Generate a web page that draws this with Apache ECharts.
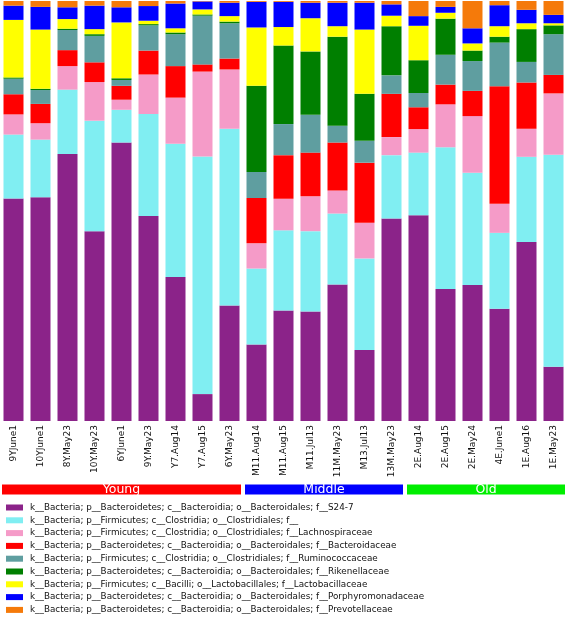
<!DOCTYPE html>
<html>
<head>
<meta charset="utf-8">
<script src="https://cdn.jsdelivr.net/npm/echarts@6/dist/echarts.min.js"></script>
<style>html,body{margin:0;padding:0;background:#fff}#c{width:567px;height:618px}</style>
</head>
<body>
<div id="c"></div>
<script>
const categories = ['9YJune1','10YJune1','8Y.May23','10Y.May23','6YJune1','9Y.May23','Y7.Aug14','Y7.Aug15','6Y.May23',
  'M11.Aug14','M11.Aug15','M11.Jul13','11M.May23','M13.Jul13','13M.May23',
  '2E.Aug14','2E.Aug15','2E.May24','4E.June1','1E.Aug16','1E.May23'];

const taxa = [
  'k__Bacteria; p__Bacteroidetes; c__Bacteroidia; o__Bacteroidales; f__S24-7',
  'k__Bacteria; p__Firmicutes; c__Clostridia; o__Clostridiales; f__',
  'k__Bacteria; p__Firmicutes; c__Clostridia; o__Clostridiales; f__Lachnospiraceae',
  'k__Bacteria; p__Bacteroidetes; c__Bacteroidia; o__Bacteroidales; f__Bacteroidaceae',
  'k__Bacteria; p__Firmicutes; c__Clostridia; o__Clostridiales; f__Ruminococcaceae',
  'k__Bacteria; p__Bacteroidetes; c__Bacteroidia; o__Bacteroidales; f__Rikenellaceae',
  'k__Bacteria; p__Firmicutes; c__Bacilli; o__Lactobacillales; f__Lactobacillaceae',
  'k__Bacteria; p__Bacteroidetes; c__Bacteroidia; o__Bacteroidales; f__Porphyromonadaceae',
  'k__Bacteria; p__Bacteroidetes; c__Bacteroidia; o__Bacteroidales; f__Prevotellaceae'
];

const S24_7           = [53.0,53.3,63.6,45.2,66.3,48.8,34.3, 6.4,27.5,18.2,26.3,26.1,32.5,16.9,48.2,49.0,31.4,32.4,26.7,42.6,12.9];
const Clostridiales_f = [15.2,13.7,15.3,26.3, 7.8,24.3,31.7,56.6,42.1,18.1,19.1,19.1,16.9,21.8,15.1,14.9,33.8,26.7,18.1,20.3,50.5];
const Lachnospiraceae = [ 4.8, 3.9, 5.6, 9.2, 2.4, 9.4,11.0,20.2,14.1, 6.0, 7.5, 8.3, 5.5, 8.5, 4.3, 5.6,10.2,13.5, 6.9, 6.7,14.6];
const Bacteroidaceae  = [ 4.8, 4.6, 3.8, 4.7, 3.3, 5.7, 7.5, 1.7, 2.6,10.8,10.4,10.4,11.4,14.3,10.3, 5.2, 4.7, 6.0,28.0,11.0, 4.4];
const Ruminococcaceae = [ 3.7, 3.3, 4.8, 6.3, 1.4, 6.0, 7.6,11.6, 8.4, 6.2, 7.4, 9.0, 4.0, 5.2, 4.4, 3.4, 7.1, 7.1,10.4, 4.9, 9.7];
const Rikenellaceae   = [ 0.3, 0.3, 0.3, 0.4, 0.4, 0.3, 0.4, 0.3, 0.4,20.5,18.7,15.1,21.2,11.2,11.7, 7.8, 8.6, 2.5, 1.4, 7.8, 2.1];
const Lactobacillaceae= [13.7,14.1, 2.3, 1.2,13.3, 0.8, 1.0, 1.2, 1.3,13.9, 4.4, 7.9, 2.5,15.3, 2.5, 8.2, 1.4, 1.7, 2.5, 1.4, 0.5];
const Porphyromonadaceae=[3.4, 5.4, 2.8, 5.6, 3.6, 3.5, 5.9, 1.9, 3.2, 6.1, 6.0, 3.7, 5.6, 6.4, 2.7, 2.3, 1.4, 3.6, 5.0, 3.2, 2.0];
const Prevotellaceae  = [ 1.1, 1.4, 1.5, 1.1, 1.5, 1.2, 0.6, 0.1, 0.4, 0.2, 0.2, 0.4, 0.4, 0.4, 0.8, 3.6, 1.4, 6.5, 1.0, 2.1, 3.3];

const seriesValues = [S24_7, Clostridiales_f, Lachnospiraceae, Bacteroidaceae, Ruminococcaceae, Rikenellaceae, Lactobacillaceae, Porphyromonadaceae, Prevotellaceae];
const colors = ['#8B2389','#80EEF2','#F59BC8','#FF0000','#5F9EA0','#007F00','#FFFF00','#0000FF','#F57A0A'];

const groupNames = ['Young','Middle','Old'];
const groupCounts = [9, 6, 6];
const groupColors = ['#FF0000','#0000FF','#00EE00'];

const FONT = 'DejaVu Sans';
const chart = echarts.init(document.getElementById('c'), null, {renderer:'canvas'});

const series = seriesValues.map((vals, i) => ({
  name: taxa[i],
  type: 'bar',
  stack: 'abund',
  xAxisIndex: 0, yAxisIndex: 0,
  barWidth: 20,
  data: vals,
  itemStyle: {color: colors[i]},
  emphasis: {disabled: true}
}));

groupNames.forEach((g, i) => {
  series.push({
    name: g,
    type: 'bar',
    stack: 'grp',
    xAxisIndex: 1, yAxisIndex: 1,
    barWidth: 14,
    data: [groupCounts[i]],
    itemStyle: {color: groupColors[i], borderColor: '#fff', borderWidth: 2},
    label: {show: true, position: 'inside', formatter: g, color: '#fff', fontSize: 12.5, fontFamily: FONT},
    emphasis: {disabled: true}
  });
});

chart.setOption({
  animation: false,
  color: colors,
  grid: [
    {left: -2, right: 0, top: 1, height: 420},
    {left: 0, right: 0, top: 482, height: 15}
  ],
  xAxis: [
    {type: 'category', gridIndex: 0, data: categories,
     axisLine: {show: false}, axisTick: {show: false},
     axisLabel: {rotate: 90, fontSize: 9, fontFamily: FONT, color: '#111', margin: 4, interval: 0}},
    {type: 'value', gridIndex: 1, min: 0, max: 21, show: false}
  ],
  yAxis: [
    {type: 'value', gridIndex: 0, min: 0, max: 100, show: false},
    {type: 'category', gridIndex: 1, data: ['group'], show: false}
  ],
  legend: {
    data: taxa,
    orient: 'vertical',
    left: 6, top: 501.5,
    padding: 0,
    itemWidth: 17, itemHeight: 6, itemGap: 0.8,
    icon: 'rect',
    selectedMode: false,
    textStyle: {fontSize: 8.8, fontFamily: FONT, color: '#111', lineHeight: 12, padding: [0,0,0,2]}
  },
  series: series
});
</script>
</body>
</html>
